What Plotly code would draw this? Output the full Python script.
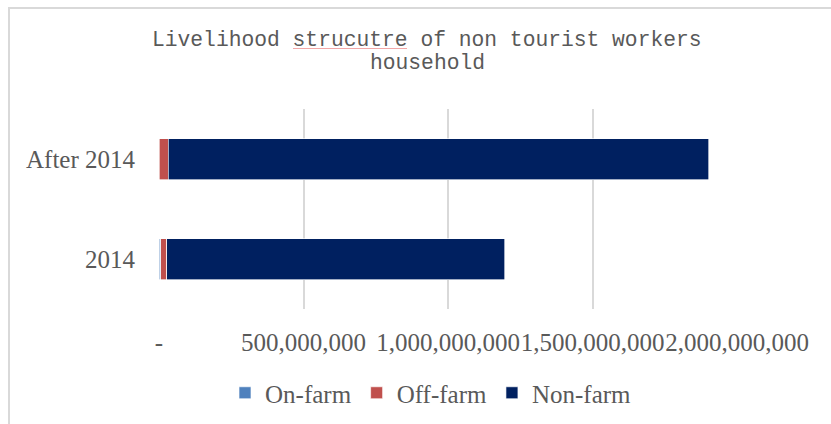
import plotly.graph_objects as go

# Household income by livelihood source (stacked)
periods = ["2014", "After 2014"]
on_farm = [6_000_000, 1_000_000]
off_farm = [21_000_000, 31_000_000]
non_farm = [1_170_000_000, 1_870_000_000]

series_names = ["On-farm", "Off-farm", "Non-farm"]
series_colors = ["#4F81BD", "#C0504D", "#002060"]

x_tick_values = [0, 500_000_000, 1_000_000_000, 1_500_000_000, 2_000_000_000]
x_tick_labels = ["-", "500,000,000", "1,000,000,000", "1,500,000,000", "2,000,000,000"]

title_lines = ["Livelihood strucutre of non tourist workers", "household"]

W, H = 831, 424
L, R, T, B = 159, 94, 109, 115
pw, ph = W - L - R, H - T - B


def px_x(px):
    return (px - L) / pw


def px_y(py):
    return (H - B - py) / ph


fig = go.Figure()
for name, vals, col in zip(series_names, [on_farm, off_farm, non_farm], series_colors):
    fig.add_trace(go.Bar(
        y=periods, x=vals, name=name, orientation="h",
        marker=dict(color=col, line=dict(color="rgba(255,255,255,0.8)", width=0.8)),
    ))

label_font = dict(family="Liberation Serif", size=25, color="#595959")

fig.update_layout(
    width=W, height=H,
    margin=dict(l=L, r=R, t=T, b=B, autoexpand=False),
    barmode="stack",
    bargap=0.59,
    plot_bgcolor="white",
    paper_bgcolor="white",
    showlegend=True,
    legend=dict(
        orientation="h", x=px_x(431), xanchor="center",
        y=px_y(393), yanchor="middle",
        font=label_font, traceorder="normal",
        itemclick=False,
    ),
    xaxis=dict(
        range=[0, 2_000_000_000],
        tickvals=x_tick_values, ticktext=x_tick_labels,
        tickangle=0, automargin=False,
        showgrid=True, gridcolor="#D9D9D9", gridwidth=2,
        zeroline=False, showline=False,
        ticks="outside", ticklen=11, tickcolor="rgba(0,0,0,0)",
        tickfont=label_font,
    ),
    yaxis=dict(
        categoryorder="array", categoryarray=periods,
        automargin=False,
        showgrid=False, zeroline=False, showline=False,
        ticks="outside", ticklen=18, tickcolor="rgba(0,0,0,0)",
        tickfont=label_font,
    ),
)

# Chart title in a monospace face, one annotation per line
title_font = dict(family="Liberation Mono", size=21.3, color="#595959")
for line, cy in zip(title_lines, [40, 63]):
    fig.add_annotation(
        xref="paper", yref="paper", x=px_x(427), y=px_y(cy),
        xanchor="center", yanchor="middle", showarrow=False,
        text=line, font=title_font,
    )

# Spell-check squiggle under the misspelt word of the title
fig.add_shape(
    type="line", xref="paper", yref="paper",
    x0=px_x(293), x1=px_x(407), y0=px_y(48.5), y1=px_y(48.5),
    line=dict(color="#F2A7A7", width=1.2),
)

# Chart frame
fig.add_shape(
    type="rect", xref="paper", yref="paper",
    x0=px_x(9), y0=px_y(470), x1=px_x(900), y1=px_y(8),
    line=dict(color="#D9D9D9", width=2), layer="below",
)

fig.write_html("out.html")
